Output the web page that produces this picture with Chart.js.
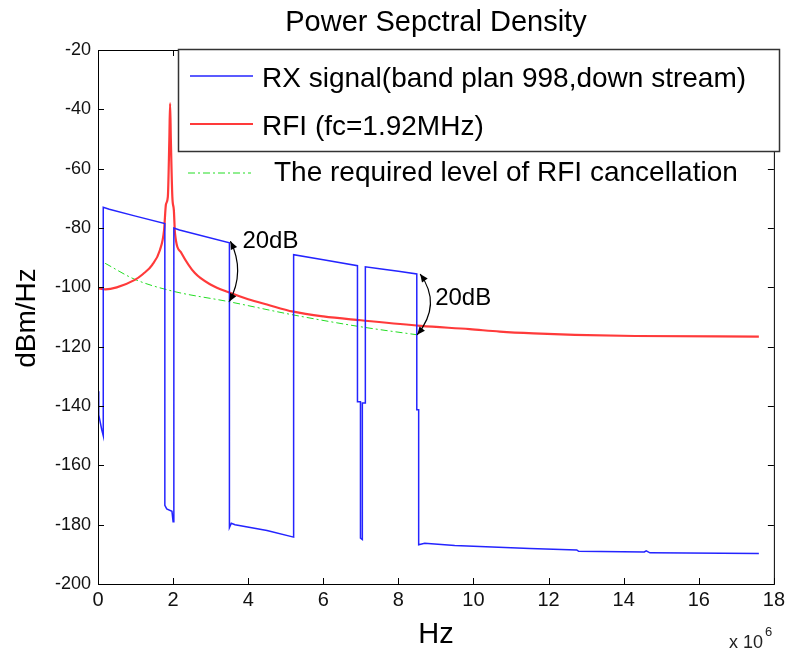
<!DOCTYPE html>
<html>
<head>
<meta charset="utf-8">
<title>Power Sepctral Density</title>
<script src="https://cdn.jsdelivr.net/npm/chart.js@4.4.1/dist/chart.umd.min.js"></script>
<style>
    html, body { margin: 0; padding: 0; background: #fff; }
    canvas { display: block; }
</style>
</head>
<body>
<canvas id="psd" width="789" height="651"></canvas>
<script>
// PSD of the received downstream signal vs. the RFI tone (x in units of 1e6 Hz, y in dBm/Hz)

const xTickValues = [0, 2, 4, 6, 8, 10, 12, 14, 16, 18];
const yTickValues = [-200, -180, -160, -140, -120, -100, -80, -60, -40, -20];

// RX signal, band plan 998 down stream: [freq, level]
const rxSignal = [
    [0, -135], [0.02, -143], [0.1, -148], [0.14, -150], [0.14, -73], [0.3, -73.7],
    [1.0, -76], [1.78, -78.5], [1.78, -173.5], [1.83, -174.7], [1.97, -175.5], [2.0, -179],
    [2.02, -179], [2.02, -80], [2.17, -80.7], [3.5, -85], [3.5, -181], [3.55, -179.5],
    [3.65, -180], [4.5, -182], [5.21, -184.2], [5.21, -89], [6.0, -90.7], [6.91, -92.7],
    [6.91, -138.6], [6.99, -138.6], [6.99, -184.5], [7.04, -185], [7.04, -139], [7.12, -139],
    [7.12, -93.1], [7.5, -93.7], [8.0, -94.6], [8.49, -95.5], [8.49, -141.3], [8.54, -141.3],
    [8.54, -186.8], [8.7, -186.3], [9.5, -187], [10.5, -187.5], [11.5, -188], [12.75, -188.5],
    [12.8, -189], [14.55, -189.2], [14.6, -188.8], [14.7, -189.5], [17.6, -189.7]
];

// RFI, fc = 1.92 MHz
const rfiSignal = [
    [0, -100.3], [0.2, -100.7], [0.5, -100], [0.98, -97.5], [1.2, -95.5], [1.44, -92.5],
    [1.65, -87.4], [1.76, -80.7], [1.81, -72], [1.86, -69.5], [1.9, -50], [1.92, -38],
    [1.94, -50], [1.98, -69.5], [2.02, -74], [2.05, -81.7], [2.22, -88.4], [2.58, -95.2],
    [3.02, -99.2], [3.46, -101.6], [4.0, -104], [4.5, -105.8], [5.2, -108.2], [6.0, -109.8],
    [7.0, -111.1], [8.6, -113], [9.9, -114.1], [10.7, -114.9], [11.6, -115.5], [12.7, -116],
    [14.3, -116.4], [17.6, -116.6]
];

// required level of RFI cancellation
const requiredLevel = [
    [0.19, -91.9], [0.98, -97.3], [1.96, -101.2], [3.47, -104.8], [5.2, -109.3],
    [7.0, -113.3], [8.5, -116]
];

// 20dB margins: freq, top level (RX), bottom level (required)
const gapFreq = [3.5, 8.5];
const gapTop = [-84.5, -95.5];
const gapBottom = [-104.8, -116];
const gapText = ['20dB', '20dB'];

const FONT = '"Liberation Sans", Arial, Helvetica, sans-serif';
const BLUE = '#2424ff';
const RED = '#ff3a3a';
const GREEN = '#22dd22';

function toXY(list) {
    return list.map(([f, v]) => ({ x: f, y: v }));
}

function line(ctx, x1, y1, x2, y2) {
    ctx.beginPath();
    ctx.moveTo(x1, y1);
    ctx.lineTo(x2, y2);
    ctx.stroke();
}

function arrowHead(ctx, x, y, angle) {
    ctx.save();
    ctx.translate(x, y);
    ctx.rotate(angle);
    ctx.beginPath();
    ctx.moveTo(0, 0);
    ctx.lineTo(-8, -3.5);
    ctx.lineTo(-8, 3.5);
    ctx.closePath();
    ctx.fill();
    ctx.restore();
}

// axes box, inward ticks, legend and annotations (MATLAB look)
const overlay = {
    id: 'overlay',
    afterDatasetsDraw(chart) {
        const { ctx, chartArea: a, scales: { x, y } } = chart;
        ctx.save();

        ctx.strokeStyle = '#000';
        ctx.lineWidth = 1;
        ctx.strokeRect(a.left + 0.5, a.top + 0.5, a.right - a.left, a.bottom - a.top);
        xTickValues.forEach(v => {
            const px = Math.round(x.getPixelForValue(v)) + 0.5;
            line(ctx, px, a.bottom, px, a.bottom - 6);
            line(ctx, px, a.top, px, a.top + 6);
        });
        yTickValues.forEach(v => {
            const py = Math.round(y.getPixelForValue(v)) + 0.5;
            line(ctx, a.left, py, a.left + 6, py);
            line(ctx, a.right, py, a.right - 6, py);
        });

        // title and axis labels
        ctx.fillStyle = '#000';
        ctx.textBaseline = 'alphabetic';
        ctx.textAlign = 'center';
        ctx.font = '29px ' + FONT;
        ctx.fillText('Power Sepctral Density', (a.left + a.right) / 2, 31);
        ctx.font = '29px ' + FONT;
        ctx.fillText('Hz', (a.left + a.right) / 2, 643);
        ctx.save();
        ctx.translate(35, 318);
        ctx.rotate(-Math.PI / 2);
        ctx.font = '28px ' + FONT;
        ctx.fillText('dBm/Hz', 0, 0);
        ctx.restore();
        ctx.textAlign = 'left';
        ctx.font = '18px ' + FONT;
        ctx.fillStyle = '#222';
        ctx.fillText('x 10', 729, 648);
        ctx.font = '13px ' + FONT;
        ctx.fillText('6', 765, 636);

        // legend box
        ctx.fillStyle = '#fff';
        ctx.fillRect(178, 50, 601, 102);
        ctx.strokeStyle = '#333';
        ctx.lineWidth = 1.5;
        ctx.strokeRect(178.5, 49.5, 601, 102);

        ctx.lineWidth = 1.5;
        ctx.strokeStyle = BLUE;
        line(ctx, 190, 76, 253, 76);
        ctx.lineWidth = 2;
        ctx.strokeStyle = RED;
        line(ctx, 190, 124, 253, 124);
        ctx.lineWidth = 1;
        ctx.strokeStyle = GREEN;
        ctx.setLineDash([7, 3, 2, 3]);
        line(ctx, 188, 173, 251, 173);
        ctx.setLineDash([]);

        ctx.fillStyle = '#000';
        ctx.font = '28px ' + FONT;
        ctx.fillText(chart.data.datasets[0].label, 262, 87);
        ctx.fillText(chart.data.datasets[1].label, 262, 135);
        ctx.fillText(chart.data.datasets[2].label, 274, 181);

        // 20dB arrows
        const bulge = [16, 25];
        const shiftTop = [1, 3];
        const labelPos = [[13, 7], [18, 31]];
        ctx.strokeStyle = '#000';
        ctx.fillStyle = '#000';
        ctx.lineWidth = 1.2;
        gapFreq.forEach((f, i) => {
            const px = x.getPixelForValue(f);
            const x0 = px + shiftTop[i], y0 = y.getPixelForValue(gapTop[i]);
            const x1 = px, y1 = y.getPixelForValue(gapBottom[i]);
            const cx = px + bulge[i], cy = (y0 + y1) / 2;
            ctx.beginPath();
            ctx.moveTo(x0, y0);
            ctx.quadraticCurveTo(cx, cy, x1, y1);
            ctx.stroke();
            arrowHead(ctx, x0, y0, Math.atan2(y0 - cy, x0 - cx));
            arrowHead(ctx, x1, y1, Math.atan2(y1 - cy, x1 - cx));
            ctx.font = '24px ' + FONT;
            ctx.fillText(gapText[i], px + labelPos[i][0], y0 + labelPos[i][1]);
        });

        ctx.restore();
    }
};

new Chart(document.getElementById('psd'), {
    type: 'scatter',
    data: {
        datasets: [
            {
                label: 'RX signal(band plan 998,down stream)',
                data: toXY(rxSignal),
                showLine: true,
                borderColor: BLUE,
                borderWidth: 1.5,
                pointRadius: 0,
                tension: 0
            },
            {
                label: 'RFI (fc=1.92MHz)',
                data: toXY(rfiSignal),
                showLine: true,
                borderColor: RED,
                borderWidth: 2.2,
                pointRadius: 0,
                cubicInterpolationMode: 'monotone'
            },
            {
                label: 'The required level of RFI cancellation',
                data: toXY(requiredLevel),
                showLine: true,
                borderColor: GREEN,
                borderWidth: 1,
                borderDash: [7, 3, 2, 3],
                pointRadius: 0,
                cubicInterpolationMode: 'monotone'
            }
        ]
    },
    options: {
        responsive: false,
        animation: false,
        devicePixelRatio: 1,
        layout: { padding: { top: 50, right: 14, left: 0, bottom: 0 } },
        plugins: {
            legend: { display: false },
            tooltip: { enabled: false }
        },
        scales: {
            x: {
                type: 'linear',
                min: 0,
                max: 18,
                afterBuildTicks: s => { s.ticks = xTickValues.map(v => ({ value: v })); },
                afterFit: s => { s.height = 67; },
                ticks: { font: { size: 20, family: FONT }, color: '#111', padding: 4, maxRotation: 0 },
                grid: { display: false, drawTicks: false },
                border: { display: false }
            },
            y: {
                type: 'linear',
                min: -200,
                max: -20,
                afterBuildTicks: s => { s.ticks = yTickValues.map(v => ({ value: v })); },
                afterFit: s => { s.width = 98; },
                ticks: { font: { size: 18, family: FONT }, color: '#111', padding: 7 },
                grid: { display: false, drawTicks: false },
                border: { display: false }
            }
        }
    },
    plugins: [overlay]
});
</script>
</body>
</html>
